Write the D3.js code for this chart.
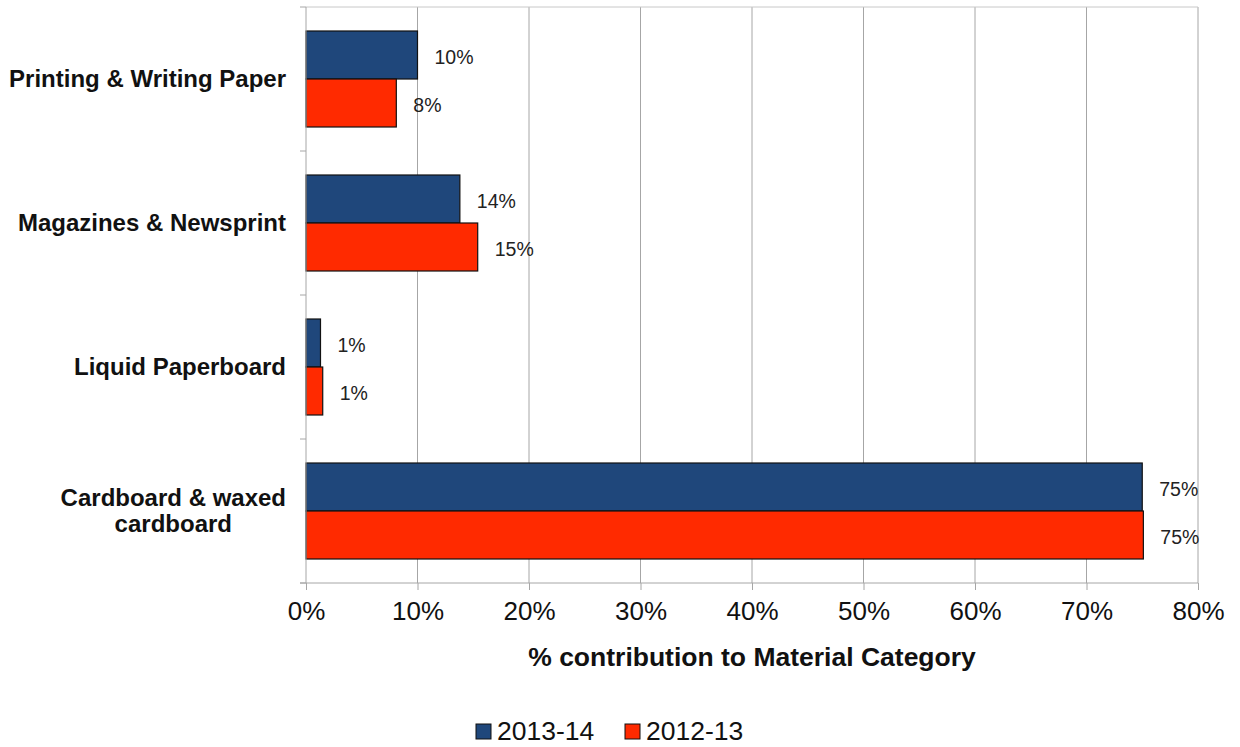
<!DOCTYPE html>
<html><head><meta charset="utf-8">
<script src="https://cdn.jsdelivr.net/npm/d3@7"></script>
<style>body{margin:0;background:#fff}svg{display:block;font-family:"Liberation Sans",Arial,sans-serif}</style>
</head><body><svg id="c" width="1240" height="747"></svg>
<script>
const categories = ["Printing & Writing Paper", "Magazines & Newsprint", "Liquid Paperboard", "Cardboard & waxed cardboard"];
const categoryLines = [["Printing & Writing Paper"], ["Magazines & Newsprint"], ["Liquid Paperboard"], ["Cardboard & waxed", "cardboard"]];
const seriesNames = ["2013-14", "2012-13"];
const values2013_14 = [10.0, 13.8, 1.3, 75.0];
const values2012_13 = [8.1, 15.4, 1.5, 75.1];
const labels2013_14 = ["10%", "14%", "1%", "75%"];
const labels2012_13 = ["8%", "15%", "1%", "75%"];
const xTicks = [0, 10, 20, 30, 40, 50, 60, 70, 80];
const colors = ["#1f477b", "#ff2a00"];

const svg = d3.select("#c");
const L = 306, R = 1198, T = 7, B = 583;
const x = d3.scaleLinear().domain([0, 80]).range([L, R]);
const y = d3.scaleBand().domain(categories).range([T, B]).paddingInner(1/3).paddingOuter(1/6);
const y1 = d3.scaleBand().domain(seriesNames).range([0, y.bandwidth()]);
const step = y.step();

// gridlines
svg.append("g").selectAll("line").data(xTicks.slice(1)).join("line")
  .attr("x1", d => x(d)).attr("x2", d => x(d)).attr("y1", T).attr("y2", B)
  .attr("stroke", "#a6a6a6").attr("stroke-width", 1);
svg.append("line").attr("x1", L).attr("x2", R).attr("y1", T).attr("y2", T).attr("stroke", "#c8c8c8");

// bars
const data = categories.map((c, i) => ({c, vals: [values2013_14[i], values2012_13[i]], labs: [labels2013_14[i], labels2012_13[i]]}));
const g = svg.append("g").selectAll("g").data(data).join("g")
  .attr("transform", d => `translate(0,${y(d.c)})`);
g.selectAll("rect").data(d => d.vals.map((v, j) => ({v, s: seriesNames[j], j}))).join("rect")
  .attr("x", x(0)).attr("y", d => y1(d.s)).attr("width", d => x(d.v) - x(0)).attr("height", y1.bandwidth())
  .attr("fill", d => colors[d.j]).attr("stroke", "#111").attr("stroke-width", 1.2);
g.selectAll("text").data(d => d.vals.map((v, j) => ({v, s: seriesNames[j], lab: d.labs[j]}))).join("text")
  .attr("x", d => x(d.v) + 17).attr("y", d => y1(d.s) + y1.bandwidth() / 2 + 2)
  .attr("dy", "0.35em").attr("font-size", 19.5).attr("fill", "#222").text(d => d.lab);

// left axis
svg.append("line").attr("x1", L).attr("x2", L).attr("y1", T).attr("y2", B).attr("stroke", "#a6a6a6");
const bounds = categories.map(c => y(c) - (step - y.bandwidth()) / 2).concat([B]);
svg.append("g").selectAll("line").data(bounds).join("line")
  .attr("x1", L - 6).attr("x2", L).attr("y1", d => d).attr("y2", d => d).attr("stroke", "#a6a6a6");
// bottom axis
const xAxis = d3.axisBottom(x).tickValues(xTicks).tickFormat(d => d + "%").tickSize(7).tickPadding(12);
const ax = svg.append("g").attr("transform", `translate(0,${B})`).call(xAxis);
ax.select(".domain").attr("stroke", "#a6a6a6").attr("d", `M${L - 6},0H${R}`);
ax.selectAll(".tick line").attr("stroke", "#a6a6a6");
ax.selectAll(".tick text").attr("font-size", 26).attr("fill", "#111").attr("font-family", "Liberation Sans, Arial, sans-serif");

// category labels
categories.forEach((c, i) => {
  const lines = categoryLines[i];
  const cy = y(c) + y.bandwidth() / 2;
  const lh = 26;
  const t = svg.append("text").attr("text-anchor", "middle").attr("font-weight", "bold").attr("font-size", 24).attr("fill", "#111");
  lines.forEach((ln, k) => {
    t.append("tspan").attr("x", 0).attr("y", cy + (k - (lines.length - 1) / 2) * lh).attr("dy", "0.35em").text(ln);
  });
  const w = t.node().getBBox().width;
  t.attr("transform", `translate(${286 - w / 2},0)`);
});

// axis title
svg.append("text").attr("x", (L + R) / 2 + 0).attr("y", 657).attr("dy", "0.35em").attr("text-anchor", "middle")
  .attr("font-weight", "bold").attr("font-size", 26.5).attr("fill", "#111").text("% contribution to Material Category");

// legend
const lg = svg.append("g").attr("transform", "translate(476,724)");
const lx = [0, 149];
seriesNames.forEach((s, i) => {
  lg.append("rect").attr("x", lx[i]).attr("y", 0).attr("width", 15).attr("height", 15).attr("fill", colors[i]).attr("stroke", "#111");
  lg.append("text").attr("x", lx[i] + 21).attr("y", 7).attr("dy", "0.35em").attr("font-size", 26.5).attr("fill", "#111").text(s);
});
</script></body></html>
